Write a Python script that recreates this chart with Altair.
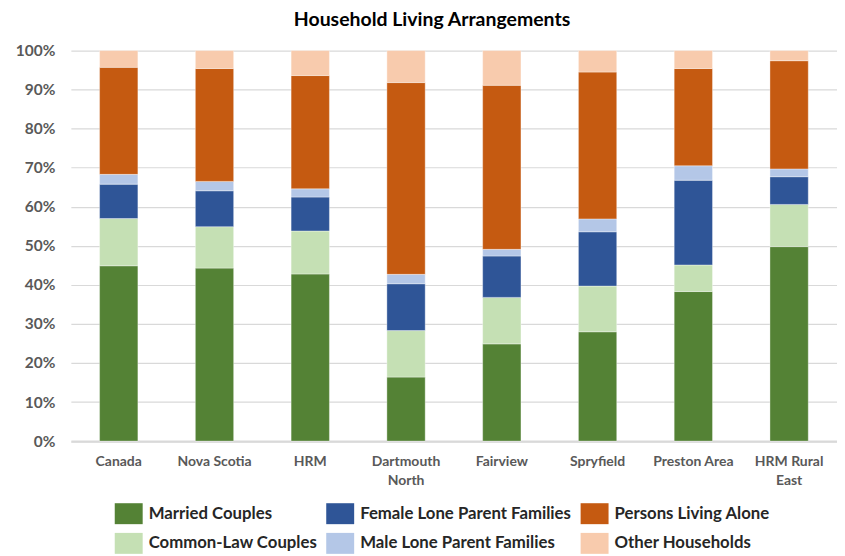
import altair as alt
import pandas as pd

categories = ["Canada", "Nova Scotia", "HRM", "Dartmouth North", "Fairview",
              "Spryfield", "Preston Area", "HRM Rural East"]
series = ["Married Couples", "Common-Law Couples", "Female Lone Parent Families",
          "Male Lone Parent Families", "Persons Living Alone", "Other Households"]
colors = ["#548235", "#C5E0B4", "#2F5597", "#B4C7E7", "#C55A11", "#F8CBAD"]

married = [44.9, 44.3, 42.8, 16.4, 24.9, 28.0, 38.3, 49.8]
common_law = [12.1, 10.6, 11.0, 11.9, 11.9, 11.7, 6.8, 10.8]
female_lone = [8.8, 9.2, 8.7, 12.0, 10.6, 13.9, 21.7, 7.1]
male_lone = [2.5, 2.4, 2.1, 2.4, 1.7, 3.3, 3.7, 2.0]
alone = [27.4, 28.9, 29.0, 49.1, 42.0, 37.6, 24.9, 27.7]
other = [4.3, 4.6, 6.4, 8.2, 8.9, 5.5, 4.6, 2.6]

values = [married, common_law, female_lone, male_lone, alone, other]

rows = []
for si, (s, vals) in enumerate(zip(series, values)):
    for c, v in zip(categories, vals):
        rows.append({"Area": c, "Type": s, "Pct": v / 100.0, "ord": si})
df = pd.DataFrame(rows)

FONT = "Lato"

chart = alt.Chart(df).mark_bar(stroke="white", strokeWidth=0.6, strokeOpacity=0.6).encode(
    x=alt.X("Area:N", sort=categories, title=None,
            scale=alt.Scale(paddingInner=0.6, paddingOuter=0.3),
            axis=alt.Axis(labelAngle=0, labelFont=FONT, labelFontSize=14,
                          labelFontWeight="bold", labelColor="#595959",
                          labelPadding=13, labelLineHeight=19,
                          ticks=False, tickSize=0, domainColor="#d9d9d9",
                          domainWidth=2,
                          labelExpr="datum.value == 'Dartmouth North' ? ['Dartmouth', 'North'] : datum.value == 'HRM Rural East' ? ['HRM Rural', 'East'] : datum.value")),
    y=alt.Y("Pct:Q", stack="zero", title=None,
            scale=alt.Scale(domain=[0, 1], nice=False),
            axis=alt.Axis(format=".0%", values=[i / 10 for i in range(11)],
                          labelFont=FONT, labelFontSize=15.5, labelFontWeight="bold",
                          labelColor="#595959", labelPadding=16, ticks=False,
                          tickSize=0, domain=False, gridColor="#d9d9d9",
                          gridWidth=1.2)),
    color=alt.Color("Type:N",
                    scale=alt.Scale(domain=series, range=colors),
                    legend=alt.Legend(title=None, orient="none", columns=3,
                                      legendX=44, legendY=450, padding=0,
                                      symbolType="M-1,-0.75H1V0.75H-1Z",
                                      symbolSize=784, symbolStrokeWidth=0,
                                      symbolOpacity=1,
                                      labelFont=FONT, labelFontSize=16.8,
                                      labelFontWeight="bold", labelColor="#262626",
                                      labelOffset=6, columnPadding=9,
                                      rowPadding=5, labelLimit=400,
                                      gridAlign="each")),
    order=alt.Order("ord:Q", sort="ascending"),
).properties(
    width=768,
    height=391.5,
    title=alt.Title("Household Living Arrangements", font=FONT, fontSize=19.5,
                    fontWeight="bold", color="#000000", offset=13, dx=-22),
    autosize=alt.AutoSizeParams(type="none"),
    padding={"left": 63, "top": 42, "right": 0, "bottom": 114},
).configure_view(stroke=None)

chart.save("out.html", embed_options={"renderer": "svg", "actions": False})
